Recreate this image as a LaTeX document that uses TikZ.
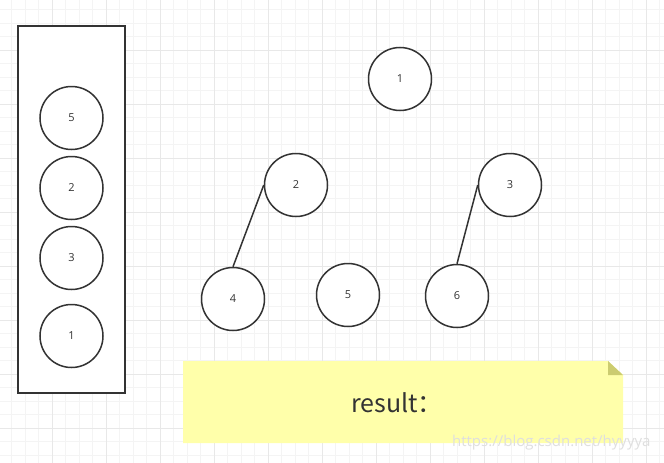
\documentclass[tikz,border=0pt]{standalone}
\usepackage{fontspec}
\setmainfont{Open Sans}
\newfontfamily\cjkfont{Noto Sans CJK SC}
\definecolor{ink}{HTML}{333333}
\definecolor{gridminor}{HTML}{F4F4F4}
\definecolor{gridmajor}{HTML}{E8E8E8}
\definecolor{notefill}{HTML}{FFFFAA}
\definecolor{notefold}{HTML}{CCCC70}
\tikzset{
  ball/.style={circle, draw=ink, line width=1.5pt, fill=white, minimum size=63pt, inner sep=0pt, font=\fontsize{11}{13}\selectfont, text=ink},
  edge/.style={draw=ink, line width=1.5pt},
  minorline/.style={draw=gridminor, line width=0.8pt},
  majorline/.style={draw=gridmajor, line width=1pt}
}
\begin{document}
\begin{tikzpicture}[x=1pt,y=-1pt]
\useasboundingbox (0,0) rectangle (664,463);
\fill[white] (0,0) rectangle (664,463);
% grid
\foreach \i in {0,...,50} {
  \pgfmathsetmacro\gx{-2+\i*13.5}
  \draw[minorline] (\gx,0) -- (\gx,463);
}
\foreach \i in {0,...,35} {
  \pgfmathsetmacro\gy{-4+\i*13.5}
  \draw[minorline] (0,\gy) -- (664,\gy);
}
\foreach \i in {0,...,12} {
  \pgfmathsetmacro\gx{-2+\i*54}
  \draw[majorline] (\gx,0) -- (\gx,463);
}
\foreach \i in {0,...,9} {
  \pgfmathsetmacro\gy{-4+\i*54}
  \draw[majorline] (0,\gy) -- (664,\gy);
}
% stack box
\draw[ink, line width=2pt, fill=white] (18,26) rectangle (125,393);
\node[ball] (s5) at (71.5,118) {5};
\node[ball] (s2) at (71.5,188) {2};
\node[ball] (s3) at (71.5,258) {3};
\node[ball] (s1) at (71.5,336) {1};
% tree
\node[ball] (n1) at (400,79) {1};
\node[ball] (n2) at (296,185) {2};
\node[ball] (n3) at (510,185) {3};
\node[ball] (n4) at (233,299) {4};
\node[ball] (n5) at (348,295) {5};
\node[ball] (n6) at (457,296) {6};
\draw[edge] (n2.west) -- (n4.north);
\draw[edge] (n3.west) -- (n6.north);
% note
\fill[notefill] (183,361) -- (608,361) -- (623,375) -- (623,443) -- (183,443) -- cycle;
\fill[notefold] (608,361) -- (623,375) -- (608,375) -- cycle;
\node[font=\cjkfont\fontsize{25}{29}\selectfont, text=ink] (res) at (397,403) {result：};
\node[font=\fontsize{15}{17}\selectfont, text=gray!25, anchor=east] (wm) at (654,443) {https://blog.csdn.net/hyyyya};
\end{tikzpicture}
\end{document}
